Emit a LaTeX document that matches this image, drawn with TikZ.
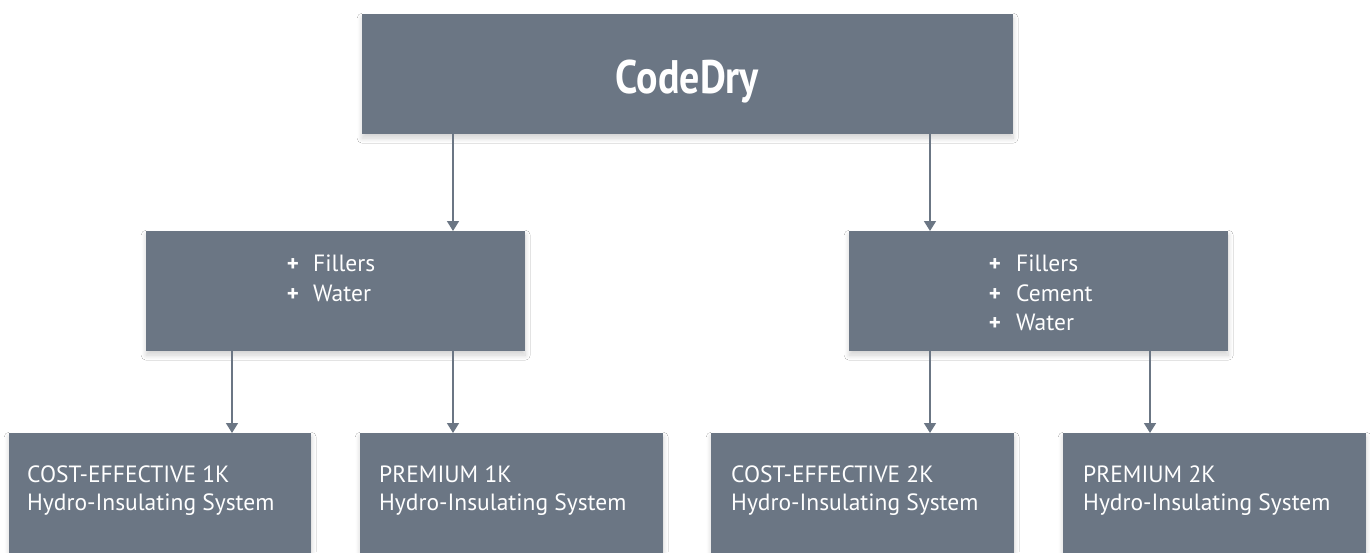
\documentclass[tikz,border=0pt]{standalone}
\usepackage{fontspec}
\usepackage{graphicx}
\setmainfont{PT Sans}
\usetikzlibrary{arrows.meta,shadows.blur}
\definecolor{boxgray}{HTML}{6B7684}
\tikzset{
  box/.style={fill=boxgray, draw=none, inner sep=0pt, anchor=north west,
    blur shadow={shadow xshift=0pt, shadow yshift=-4pt, shadow blur radius=5pt, shadow opacity=18, shadow blur steps=10}},
  arr/.style={draw=boxgray, line width=1.5pt, -{Triangle[width=12pt,length=10pt]}},
  txt/.style={text=white, inner sep=0pt, font=\fontsize{23.5}{28}\selectfont},
  plus/.style={text=white, inner sep=0pt, anchor=base, font=\bfseries\fontsize{23}{27}\selectfont},
}
\begin{document}
\begin{tikzpicture}[x=1pt,y=-1pt]
\path[use as bounding box, clip] (0,0) rectangle (1370,552);
\fill[white] (0,0) rectangle (1370,552);
% boxes
\node[box, minimum width=651pt, minimum height=120pt] (top) at (362,14) {};
\node[box, minimum width=379pt, minimum height=120pt] (ml) at (146,231) {};
\node[box, minimum width=379pt, minimum height=120pt] (mr) at (849,231) {};
\node[box, minimum width=302pt, minimum height=140pt] (b1) at (9,433) {};
\node[box, minimum width=303pt, minimum height=140pt] (b2) at (360,433) {};
\node[box, minimum width=303pt, minimum height=140pt] (b3) at (711,433) {};
\node[box, minimum width=303pt, minimum height=140pt] (b4) at (1063,433) {};
% title
\node[text=white, inner sep=0pt, anchor=base, font=\bfseries\fontsize{47}{52}\selectfont] (title) at (687.5,93) {\scalebox{0.85}[1]{CodeDry}};
% middle left
\node[plus] (p1) at (293,271) {+};
\node[txt, anchor=base west] (t1) at (313,271) {Fillers};
\node[plus] (p2) at (293,301) {+};
\node[txt, anchor=base west] (t2) at (313,301) {Water};
% middle right
\node[plus] (p3) at (995,271) {+};
\node[txt, anchor=base west] (t3) at (1016,271) {Fillers};
\node[plus] (p4) at (995,301) {+};
\node[txt, anchor=base west] (t4) at (1016,301) {Cement};
\node[plus] (p5) at (995,330) {+};
\node[txt, anchor=base west] (t5) at (1016,330) {Water};
% bottom texts
\node[txt, anchor=base west] (l1a) at (27,482) {COST-EFFECTIVE 1K};
\node[txt, anchor=base west] (l1b) at (27,510) {Hydro-Insulating System};
\node[txt, anchor=base west] (l2a) at (379,482) {PREMIUM 1K};
\node[txt, anchor=base west] (l2b) at (379,510) {Hydro-Insulating System};
\node[txt, anchor=base west] (l3a) at (731,482) {COST-EFFECTIVE 2K};
\node[txt, anchor=base west] (l3b) at (731,510) {Hydro-Insulating System};
\node[txt, anchor=base west] (l4a) at (1083,482) {PREMIUM 2K};
\node[txt, anchor=base west] (l4b) at (1083,510) {Hydro-Insulating System};
% arrow columns
\coordinate (c1) at (453,0);
\coordinate (c2) at (930,0);
\coordinate (c3) at (232,0);
\coordinate (c4) at (1150,0);
\draw[arr] (top.south -| c1) -- (ml.north -| c1);
\draw[arr] (top.south -| c2) -- (mr.north -| c2);
\draw[arr] (ml.south -| c3) -- (b1.north -| c3);
\draw[arr] (ml.south -| c1) -- (b2.north -| c1);
\draw[arr] (mr.south -| c2) -- (b3.north -| c2);
\draw[arr] (mr.south -| c4) -- (b4.north -| c4);
\end{tikzpicture}
\end{document}
